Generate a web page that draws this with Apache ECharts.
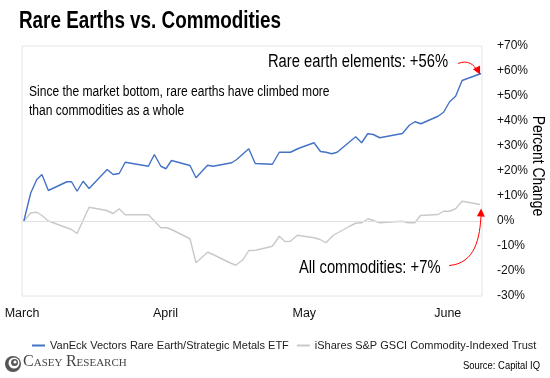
<!DOCTYPE html>
<html>
<head>
<meta charset="utf-8">
<script src="https://cdn.jsdelivr.net/npm/echarts@6/dist/echarts.min.js"></script>
<style>
html,body{margin:0;padding:0;background:#fff;}
#c{width:550px;height:378px;}
</style>
</head>
<body>
<div id="c"></div>
<script>
// ---- data (days after March 1, percent change) ----
var monthTicks = [0, 31, 61, 92];
var monthLabels = ['March', 'April', 'May', 'June'];
var yTicks = [-30, -20, -10, 0, 10, 20, 30, 40, 50, 60, 70];

var rareDays = [0.4,1.9,3.2,4.3,5.7,9.7,10.7,11.9,13.2,14.5,18.4,19.7,21.0,22.3,27.3,28.6,30.0,31.1,32.3,36.3,37.6,40.1,41.3,45.3,46.4,49.0,50.4,54.1,55.6,58.0,59.7,63.1,64.5,65.7,66.9,68.1,72.1,73.4,74.7,75.9,77.3,82.2,83.7,84.9,86.2,89.9,91.1,92.4,93.7,95.1,99.2];
var rareVals = [0,11.3,16.6,18.6,12.2,15.7,15.7,11.9,15.9,13.0,20.6,18.6,19.0,23.5,21.9,26.6,21.9,20.9,24.2,22.2,17.3,22.3,21.9,23.3,24.6,28.9,23.0,22.7,27.5,27.5,29.0,31.3,27.8,27.5,26.9,27.5,33.7,31.3,34.9,34.6,33.3,35.0,38.3,39.7,38.9,41.9,43.5,47.7,49.9,56.2,59.0];

var commDays = [0.4,1.9,3.2,4.3,5.7,10.7,11.9,14.5,18.3,19.7,21.0,22.3,27.3,30.0,31.3,32.3,36.3,37.6,38.8,40.1,41.3,44.9,46.2,47.8,49.0,50.5,54.1,55.6,56.8,58.0,59.5,63.1,64.4,65.7,67.2,70.8,72.1,73.4,74.8,77.3,82.2,83.4,84.9,86.1,89.9,91.1,92.4,93.7,95.1,99.0];
var commVals = [0,3.3,3.5,2.2,0,-3.4,-5.0,5.5,4.2,3.0,4.9,2.5,2.5,-2.7,-2.7,-3.4,-7.1,-16.7,-14.7,-12.5,-13.4,-16.7,-17.7,-15.4,-11.8,-11.7,-10.1,-6.1,-8.2,-8.1,-5.7,-6.7,-7.4,-8.7,-5.8,-2.1,-0.9,-0.7,0.9,-0.7,-0.1,-0.7,-0.7,2.2,2.6,3.9,3.9,4.9,7.9,6.6];

var seriesNames = ['VanEck Vectors Rare Earth/Strategic Metals ETF', 'iShares S&P GSCI Commodity-Indexed Trust'];

function pairs(xs, ys) { return xs.map(function (x, i) { return [x, ys[i]]; }); }

var FONT = "'Liberation Sans',Arial,sans-serif";
var NARROW = 0.82;
var BLUE = '#4472C4', GREY = '#C9C9C9', RED = '#FF0000';

var chart = echarts.init(document.getElementById('c'), null, {renderer: 'canvas'});

var option = {
  animation: false,
  backgroundColor: '#ffffff',
  textStyle: {fontFamily: FONT},
  grid: {left: 22, right: 68, top: 46, bottom: 82, show: true, borderColor: '#E4E4E4', borderWidth: 1, containLabel: false},
  legend: {
    data: seriesNames,
    left: 27, top: 335,
    icon: 'rect', itemWidth: 13, itemHeight: 2, itemGap: 8,
    textStyle: {fontFamily: FONT, fontSize: 11, color: '#222'}
  },
  xAxis: {
    type: 'value', min: 0, max: 99.4,
    axisLine: {show: false}, axisTick: {show: false}, splitLine: {show: false},
    axisLabel: {
      customValues: monthTicks,
      margin: 11,
      fontFamily: FONT, fontSize: 12.5, color: '#111',
      formatter: function (v) { var i = monthTicks.indexOf(v); return i >= 0 ? monthLabels[i] : ''; }
    }
  },
  yAxis: {
    type: 'value', position: 'right', min: -30, max: 70, interval: 10,
    axisLine: {show: false}, axisTick: {show: false}, splitLine: {show: false},
    axisLabel: {
      margin: 15, fontFamily: FONT, fontSize: 12, color: '#111',
      formatter: function (v) { return (v > 0 ? '+' : '') + v + '%'; }
    }
  },
  series: [
    {
      name: seriesNames[0], type: 'line', data: pairs(rareDays, rareVals),
      showSymbol: false, symbol: 'none', z: 3,
      lineStyle: {color: BLUE, width: 1.4}, itemStyle: {color: BLUE}
    },
    {
      name: seriesNames[1], type: 'line', data: pairs(commDays, commVals),
      showSymbol: false, symbol: 'none', z: 2,
      lineStyle: {color: GREY, width: 1.4}, itemStyle: {color: GREY},
      markLine: {
        silent: true, symbol: 'none', label: {show: false},
        lineStyle: {color: '#E0E0E0', width: 1, type: 'solid'},
        data: [{yAxis: 0}]
      }
    }
  ]
};
chart.setOption(option);

function arrowHead(tip, from, len, half) {
  var dx = tip[0] - from[0], dy = tip[1] - from[1];
  var d = Math.sqrt(dx * dx + dy * dy) || 1;
  var ux = dx / d, uy = dy / d;
  var bx = tip[0] - ux * len, by = tip[1] - uy * len;
  return [[tip[0], tip[1]], [bx - uy * half, by + ux * half], [bx + uy * half, by - ux * half]];
}

var rEnd = chart.convertToPixel({xAxisIndex: 0, yAxisIndex: 0}, [rareDays[rareDays.length - 1], rareVals[rareVals.length - 1]]);
var cEnd = chart.convertToPixel({xAxisIndex: 0, yAxisIndex: 0}, [commDays[commDays.length - 1], commVals[commVals.length - 1]]);

var tip1 = [rEnd[0] - 1, rEnd[1] + 1];
var s1 = [tip1[0] - 22, tip1[1] - 11];
var c1a = [tip1[0] - 13, tip1[1] - 15], c1b = [tip1[0] - 5, tip1[1] - 10];

var tip2 = [cEnd[0] + 1, cEnd[1] + 4];
var s2 = [tip2[0] - 32, tip2[1] + 57];
var c2a = [tip2[0] - 6, tip2[1] + 55], c2b = [tip2[0] - 1, tip2[1] + 30];

function ntext(x, y, txt, font, align, extra) {
  var el = {type: 'text', x: x, y: y, scaleX: NARROW, z: 20,
    style: {text: txt, font: font, fill: '#000', align: align, verticalAlign: 'middle'}};
  if (extra) { for (var k in extra) el[k] = extra[k]; }
  return el;
}

var SERIF = "'Liberation Serif','DejaVu Serif',serif";

var graphics = [
  ntext(19, 22, 'Rare Earths vs. Commodities', 'bold 23px ' + FONT, 'left'),
  ntext(448, 62, 'Rare earth elements: +56%', '18px ' + FONT, 'right'),
  ntext(29, 92, 'Since the market bottom, rare earths have climbed more', '14.7px ' + FONT, 'left'),
  ntext(29, 111, 'than commodities as a whole', '14.7px ' + FONT, 'left'),
  ntext(299, 268, 'All commodities: +7%', '18px ' + FONT, 'left'),
  ntext(538, 166, 'Percent Change', '17px ' + FONT, 'center', {rotation: -Math.PI / 2}),
  ntext(540, 366, 'Source: Capital IQ', '11.5px ' + FONT, 'right'),
  // arrows
  {type: 'bezierCurve', z: 10, shape: {x1: s1[0], y1: s1[1], cpx1: c1a[0], cpy1: c1a[1], cpx2: c1b[0], cpy2: c1b[1], x2: tip1[0] - 3, y2: tip1[1] - 3}, style: {stroke: RED, lineWidth: 1, fill: null}},
  {type: 'polygon', z: 10, shape: {points: arrowHead(tip1, c1b, 8, 4)}, style: {fill: RED}},
  {type: 'bezierCurve', z: 10, shape: {x1: s2[0], y1: s2[1], cpx1: c2a[0], cpy1: c2a[1], cpx2: c2b[0], cpy2: c2b[1], x2: tip2[0], y2: tip2[1] + 4}, style: {stroke: RED, lineWidth: 1, fill: null}},
  {type: 'polygon', z: 10, shape: {points: arrowHead(tip2, c2b, 8, 4)}, style: {fill: RED}},
  // Casey Research logo
  {type: 'circle', shape: {cx: 13, cy: 364, r: 8}, style: {fill: '#555'}},
  {type: 'circle', shape: {cx: 14, cy: 363, r: 5.5}, style: {fill: '#fff'}},
  {type: 'circle', shape: {cx: 14.5, cy: 362.5, r: 3.5}, style: {fill: '#555'}},
  {type: 'circle', shape: {cx: 15, cy: 362, r: 1.6}, style: {fill: '#fff'}},
  {type: 'text', x: 23, y: 370, style: {text: 'C', font: '16px ' + SERIF, fill: '#444', align: 'left', verticalAlign: 'bottom'}},
  {type: 'text', x: 33.7, y: 369, style: {text: 'ASEY', font: '11px ' + SERIF, fill: '#444', align: 'left', verticalAlign: 'bottom'}},
  {type: 'text', x: 66, y: 370, style: {text: 'R', font: '16px ' + SERIF, fill: '#444', align: 'left', verticalAlign: 'bottom'}},
  {type: 'text', x: 76.6, y: 369, style: {text: 'ESEARCH', font: '11px ' + SERIF, fill: '#444', align: 'left', verticalAlign: 'bottom'}}
];
chart.setOption({graphic: graphics});
</script>
</body>
</html>
